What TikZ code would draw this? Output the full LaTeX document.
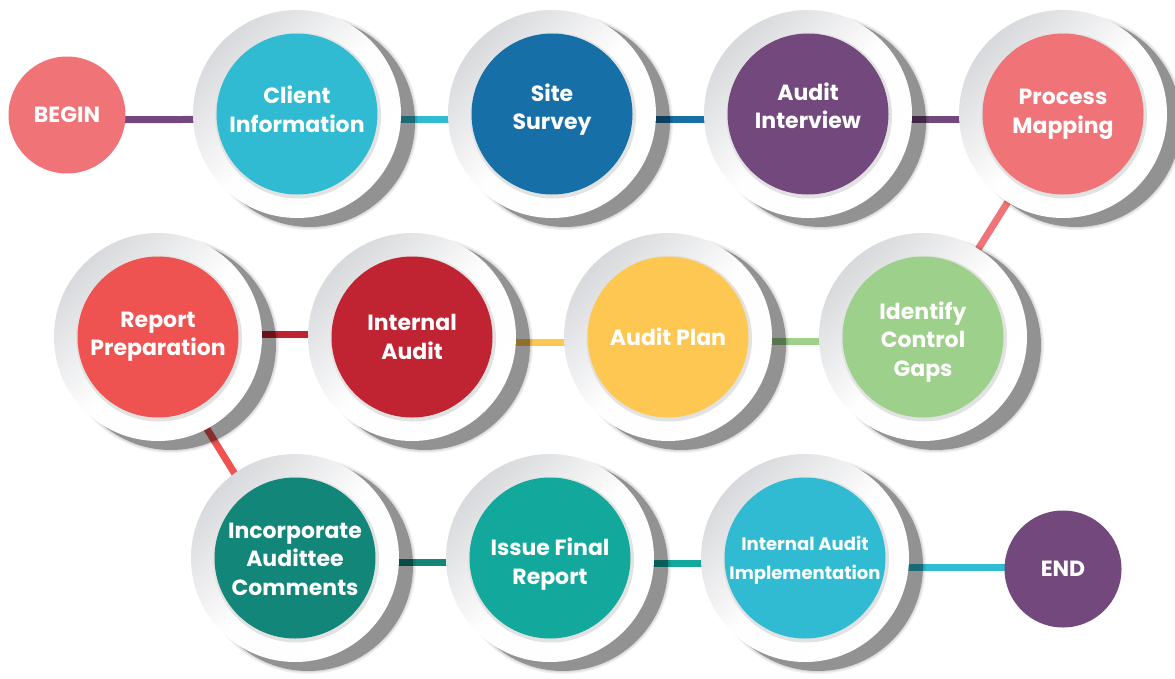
\documentclass[tikz,border=0pt]{standalone}
\usepackage{fontspec}
\setmainfont{Poppins}
\pgfdeclarelayer{lines}
\pgfdeclarelayer{shadows}
\pgfsetlayers{lines,shadows,main}
\definecolor{cpink}{HTML}{F07378}
\definecolor{ccyan}{HTML}{31BBD2}
\definecolor{cblue}{HTML}{176FA7}
\definecolor{cpurple}{HTML}{72487D}
\definecolor{cred}{HTML}{EE5351}
\definecolor{cdred}{HTML}{C02332}
\definecolor{cyellow}{HTML}{FEC752}
\definecolor{cgreen}{HTML}{9DD08A}
\definecolor{cdteal}{HTML}{13867A}
\definecolor{cteal}{HTML}{13A89C}
\definecolor{ringgrey}{HTML}{D8D9DC}
\definecolor{innergrey}{HTML}{E2E2E2}
\tikzset{
  ring/.style={circle, minimum size=208pt, inner sep=0pt, top color=ringgrey, bottom color=white, middle color=white!96!ringgrey, shading angle=45},
  endpt/.style={circle, minimum size=117pt, inner sep=0pt, fill=#1},
  conn/.style={line width=7pt, draw=#1},
  lbl/.style={align=center, text=white, inner sep=0pt, font=\bfseries\fontsize{22}{28.5}\selectfont},
}
% name, x, y, colour, text, text y
\newcommand\stepnode[6]{%
  \node[ring] (#1) at (#2,#3) {};
  \begin{pgfonlayer}{shadows}
    \fill[black, opacity=0.33] (#2+13,#3+8) circle[radius=105];
    \foreach \k in {0,...,2} {\fill[black, opacity=0.05] (#2+13,#3+8) circle[radius=108-\k];}
  \end{pgfonlayer}
  \fill[innergrey] (#2+1,#3+1.5) circle[radius=83];
  \fill[#4] (#2,#3) circle[radius=80.5];
  \node[lbl] at (#2,#6) {#5};
}
\begin{document}
\begin{tikzpicture}[x=1pt,y=-1pt]
\useasboundingbox (0,0) rectangle (1175,678);
% row 1
\node[endpt=cpink] (begin) at (67,115) {};
\node[lbl] at (begin) {BEGIN};
\stepnode{client}{297}{114}{ccyan}{Client\\Information}{109.5}
\stepnode{site}{552}{114}{cblue}{Site\\Survey}{109.5}
\stepnode{interview}{808}{114}{cpurple}{Audit\\Interview}{106}
\stepnode{mapping}{1063}{114}{cpink}{Process\\Mapping}{114.5}
% row 2
\stepnode{report}{158}{337}{cred}{Report\\Preparation}{336.5}
\stepnode{internal}{412}{337}{cdred}{Internal\\Audit}{337}
\stepnode{plan}{668}{337}{cyellow}{Audit Plan}{337}
\stepnode{gaps}{923}{337}{cgreen}{Identify\\Control\\Gaps}{342}
% row 3
\stepnode{incorp}{295}{558}{cdteal}{Incorporate\\Audittee\\Comments}{559}
\stepnode{issue}{550}{558}{cteal}{Issue Final\\Report}{564}
\stepnode{impl}{805}{558}{ccyan}{\fontsize{18}{25}\selectfont Internal Audit\\\fontsize{18}{25}\selectfont Implementation}{560}
\node[endpt=cpurple] (end) at (1063,569) {};
\node[lbl] at (end) {END};
% connectors
\path ([yshift=-9pt]impl.center) coordinate (implr);
\begin{pgfonlayer}{lines}
\draw[conn=cpurple] ([yshift=-5pt]begin.center) -- ([yshift=-5pt]client.center);
\draw[conn=ccyan] ([yshift=-5pt]client.center) -- ([yshift=-5pt]site.center);
\draw[conn=cblue] ([yshift=-5pt]site.center) -- ([yshift=-5pt]interview.center);
\draw[conn=cpurple] ([yshift=-5pt]interview.center) -- ([yshift=-5pt]mapping.center);
\draw[conn=cpink] (mapping.center) -- (gaps.center);
\draw[conn=cgreen] ([yshift=-4pt]gaps.center) -- ([yshift=-4pt]plan.center);
\draw[conn=cyellow] ([yshift=-5pt]plan.center) -- ([yshift=-5pt]internal.center);
\draw[conn=cdred] ([yshift=3pt]internal.center) -- ([yshift=3pt]report.center);
\draw[conn=cred] ([xshift=-8pt]report.center) -- ([xshift=-8pt]incorp.center);
\draw[conn=cdteal] ([yshift=-4pt]incorp.center) -- ([yshift=-4pt]issue.center);
\draw[conn=cteal] ([yshift=-5pt]issue.center) -- ([yshift=-5pt]impl.center);
\draw[conn=ccyan] (implr) -- (implr -| end.center);
\end{pgfonlayer}
\end{tikzpicture}
\end{document}
